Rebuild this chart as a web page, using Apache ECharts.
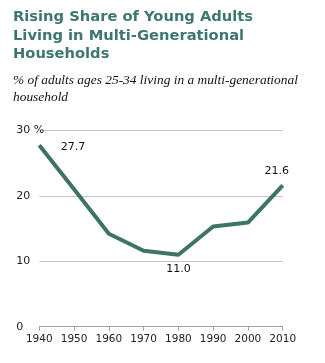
<!DOCTYPE html>
<html>
<head>
<meta charset="utf-8">
<script src="https://cdn.jsdelivr.net/npm/echarts@6/dist/echarts.min.js"></script>
<style>
  html, body { margin: 0; padding: 0; background: #fff; }
  #chart { width: 325px; height: 363px; }
</style>
</head>
<body>
<div id="chart"></div>
<script>
// Census years and share of adults 25-34 in multi-generational households (%)
const years = ['1940', '1950', '1960', '1970', '1980', '1990', '2000', '2010'];
const shares = [27.7, 21.0, 14.2, 11.6, 11.0, 15.3, 15.9, 21.6];
const yTicks = [0, 10, 20, 30];

// Only a few points carry value labels
const labelled = {
  0: { position: 'right', distance: 21, offset: [0, 2] },
  4: { position: 'bottom', distance: 8 },
  7: { position: 'top', distance: 8, offset: [-6, 0] }
};

const seriesData = shares.map((v, i) => {
  const item = { value: v };
  if (labelled[i]) {
    item.label = Object.assign({ show: true, formatter: v.toFixed(1) }, labelled[i]);
  }
  return item;
});

const chart = echarts.init(document.getElementById('chart'));
chart.setOption({
  animation: false,
  backgroundColor: '#ffffff',
  title: [
    {
      text: 'Rising Share of Young Adults\nLiving in Multi-Generational\nHouseholds',
      left: 8, top: 3,
      textStyle: {
        fontFamily: 'DejaVu Sans', fontWeight: 'bold', fontSize: 14.7,
        color: '#3e7670', lineHeight: 18.5
      }
    },
    {
      text: '% of adults ages 25-34 living in a multi-generational\nhousehold',
      left: 8, top: 67,
      textStyle: {
        fontFamily: 'Liberation Serif', fontStyle: 'italic', fontWeight: 'normal',
        fontSize: 13.4, color: '#111', lineHeight: 17
      }
    }
  ],
  grid: { left: 39.3, right: 42.3, top: 130.3, bottom: 36.3, containLabel: false },
  xAxis: {
    type: 'category',
    data: years,
    boundaryGap: false,
    axisLine: { lineStyle: { color: '#a0a0a0', width: 1 } },
    axisTick: { show: true, length: 4, lineStyle: { color: '#a0a0a0' } },
    axisLabel: {
      fontFamily: 'DejaVu Sans', fontSize: 10.5, color: '#222', margin: 7,
      interval: 0
    },
    splitLine: { show: false }
  },
  yAxis: {
    type: 'value',
    min: yTicks[0], max: yTicks[yTicks.length - 1], interval: 10,
    axisLine: { show: false },
    axisTick: { show: false },
    axisLabel: {
      align: 'left', margin: 23,
      fontFamily: 'DejaVu Sans', fontSize: 11, color: '#222',
      verticalAlign: 'middle',
      formatter: v => (v === 30 ? v + ' %' : String(v))
    },
    splitLine: { lineStyle: { color: '#c4c4c4', width: 1 } }
  },
  series: [{
    type: 'line',
    data: seriesData,
    symbol: 'circle',
    symbolSize: 1,
    showSymbol: true,
    itemStyle: { color: 'rgba(0,0,0,0)', borderWidth: 0 },
    lineStyle: { color: '#3d7462', width: 4 },
    label: {
      show: false,
      fontFamily: 'DejaVu Sans', fontSize: 11, color: '#111'
    }
  }]
});
</script>
</body>
</html>
